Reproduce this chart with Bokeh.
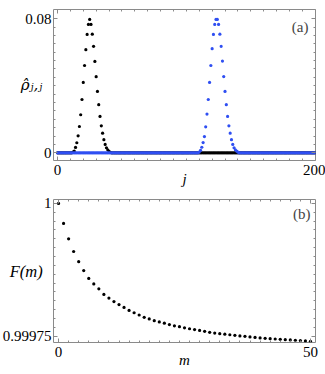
from bokeh.plotting import figure
from bokeh.models import (FixedTicker, LinearAxis, Label, Range1d, PrintfTickFormatter,
                          ColumnDataSource, CustomLabelingPolicy)
from bokeh.layouts import column
from bokeh.embed import file_html
from bokeh.resources import INLINE

# ---------------- data ----------------
j_first, j_last = 0, 200
# black packet (initial), nonzero from j = 12
black_start = 12
black_values = [0.0004, 0.0010, 0.0032, 0.0060, 0.0101, 0.0157, 0.0227, 0.0318, 0.0420, 0.0521,
                0.0615, 0.0706, 0.0766, 0.0796, 0.0766, 0.0708, 0.0635, 0.0545, 0.0454, 0.0366,
                0.0287, 0.0217, 0.0161, 0.0117, 0.0078, 0.0050, 0.0030, 0.0018, 0.0008, 0.0003]
# blue packet (transferred), nonzero from j = 110
blue_start = 110
blue_values = [0.0004, 0.0014, 0.0033, 0.0061, 0.0097, 0.0155, 0.0231, 0.0318, 0.0420, 0.0521,
               0.0621, 0.0706, 0.0766, 0.0796, 0.0796, 0.0766, 0.0708, 0.0635, 0.0547, 0.0455,
               0.0366, 0.0287, 0.0217, 0.0161, 0.0117, 0.0078, 0.0050, 0.0030, 0.0018, 0.0010, 0.0004]

m_values = list(range(0, 51))
F_values = [1.0, 0.9999623, 0.9999334, 0.9999094, 0.9998902, 0.9998735, 0.9998587, 0.9998484,
            0.9998391, 0.9998286, 0.9998217, 0.9998151, 0.9998095, 0.9998040, 0.9997984, 0.9997940,
            0.9997898, 0.9997855, 0.9997824, 0.9997792, 0.9997768, 0.9997744, 0.9997718, 0.9997694,
            0.9997678, 0.9997657, 0.9997639, 0.9997624, 0.9997607, 0.9997590, 0.9997572, 0.9997558,
            0.9997546, 0.9997536, 0.9997526, 0.9997515, 0.9997504, 0.9997496, 0.9997485, 0.9997475,
            0.9997466, 0.9997459, 0.9997452, 0.9997446, 0.9997440, 0.9997434, 0.9997428, 0.9997422,
            0.9997416, 0.9997410, 0.9997404]

top_x_labels = [0, 200]
top_y_labels = [0, 0.08]
bot_x_labels = [0, 50]
bot_y_labels = [0.99975, 1]

# ---------------- build series ----------------
j_values = list(range(j_first, j_last + 1))
rho_black = [0.0] * len(j_values)
for k, v in enumerate(black_values):
    rho_black[black_start + k] = v
rho_blue = [0.0] * len(j_values)
for k, v in enumerate(blue_values):
    rho_blue[blue_start + k] = v

FRAME = "#8a8a8a"
FONT = "'Liberation Serif', 'DejaVu Serif', serif"
RHO_FONT = "'DejaVu Serif', serif"
BLUE = "#2f4ff2"
TICK_FS = "15px"
W = 325

NO_LABELS = "for (let i = 0; i < indices.size; i++) { indices.unset(i) }\nreturn indices"


def style_axis(ax, labels):
    ax.axis_line_color = None
    ax.major_tick_line_color = FRAME
    ax.minor_tick_line_color = FRAME
    ax.major_tick_in = 4
    ax.major_tick_out = 0
    ax.minor_tick_in = 2
    ax.minor_tick_out = 0
    ax.formatter = PrintfTickFormatter(format="%g")
    ax.major_label_text_font = FONT
    ax.major_label_text_color = "black"
    ax.axis_label_text_font = FONT
    ax.axis_label_text_font_style = "italic"
    ax.axis_label_text_color = "black"
    if labels:
        ax.major_label_text_font_size = TICK_FS
    else:
        ax.major_label_text_font_size = "0px"
        ax.major_label_standoff = 0
        ax.major_label_policy = CustomLabelingPolicy(code=NO_LABELS)


def make_fig(height, xr, yr, btop, bbot, xt, yt, xlabel, ylabel, xl_stand, yl_stand, yl_size, yl_font):
    p = figure(width=W, height=height, x_range=xr, y_range=yr,
               output_backend="svg", toolbar_location=None,
               x_axis_type=None, y_axis_type=None,
               min_border_left=53, min_border_right=10,
               min_border_top=btop, min_border_bottom=bbot)
    p.grid.visible = False
    p.outline_line_color = FRAME
    p.outline_line_width = 1
    p.background_fill_color = "white"
    p.border_fill_color = "white"

    xb = LinearAxis(ticker=xt)
    style_axis(xb, True)
    xb.major_label_standoff = 4
    xb.axis_label = xlabel
    xb.axis_label_text_font_size = "15px"
    xb.axis_label_standoff = xl_stand
    p.add_layout(xb, "below")

    xa = LinearAxis(ticker=xt)
    style_axis(xa, False)
    p.add_layout(xa, "above")

    yl = LinearAxis(ticker=yt)
    style_axis(yl, True)
    yl.major_label_standoff = 2
    yl.axis_label = ylabel
    yl.axis_label_text_font = yl_font
    yl.axis_label_text_font_size = yl_size
    yl.axis_label_orientation = "horizontal"
    yl.axis_label_standoff = yl_stand
    p.add_layout(yl, "left")

    yr_ax = LinearAxis(ticker=yt)
    style_axis(yr_ax, False)
    p.add_layout(yr_ax, "right")
    return p


# ---------------- panel (a) ----------------
xt1 = FixedTicker(ticks=top_x_labels, minor_ticks=[10 * k for k in range(1, 20)])
yt1 = FixedTicker(ticks=top_y_labels, minor_ticks=[0.005 * k for k in range(1, 16)])
p1 = make_fig(194, Range1d(-3.1, 200.2), Range1d(-0.0046, 0.0855), 9, 34, xt1, yt1,
              "j", "ρ̂ⱼ,ⱼ", -7, -20, "15px", RHO_FONT)

src_black = ColumnDataSource(dict(j=j_values, rho=rho_black))
src_blue = ColumnDataSource(dict(j=j_values, rho=rho_blue))
p1.scatter("j", "rho", source=src_black, size=3.2, color="black", line_width=0)
p1.scatter("j", "rho", source=src_blue, size=3.2, color=BLUE, line_width=0)

p1.add_layout(Label(x=255, y=134, x_units="screen", y_units="screen", text="(a)",
                    text_font=FONT, text_font_size="15px",
                    text_baseline="middle", text_align="right"))

# ---------------- panel (b) ----------------
xt2 = FixedTicker(ticks=bot_x_labels, minor_ticks=[2 * k for k in range(1, 25)])
ystep = (bot_y_labels[1] - bot_y_labels[0]) / 15
yt2 = FixedTicker(ticks=bot_y_labels, minor_ticks=[bot_y_labels[0] + ystep * k for k in range(1, 15)])
p2 = make_fig(180, Range1d(-1, 51), Range1d(0.999738, 1.0000074), 5, 32, xt2, yt2,
              "m", "F(m)", -8, -43, "16.5px", FONT)

src_F = ColumnDataSource(dict(m=m_values, F=F_values))
p2.scatter("m", "F", source=src_F, size=3.2, color="black", line_width=0)

p2.add_layout(Label(x=257, y=129, x_units="screen", y_units="screen", text="(b)",
                    text_font=FONT, text_font_size="15px",
                    text_baseline="middle", text_align="right"))

layout = column(p1, p2)
open("out.html", "w").write(file_html(layout, INLINE))
